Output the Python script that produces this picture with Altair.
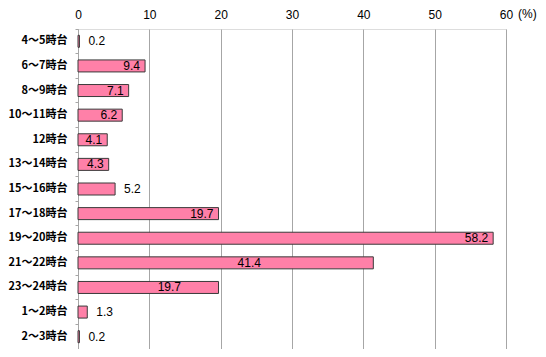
import altair as alt
import pandas as pd

categories = ["4～5時台", "6～7時台", "8～9時台", "10～11時台", "12時台", "13～14時台",
              "15～16時台", "17～18時台", "19～20時台", "21～22時台", "23～24時台",
              "1～2時台", "2～3時台"]
values = [0.2, 9.4, 7.1, 6.2, 4.1, 4.3, 5.2, 19.7, 58.2, 41.4, 19.7, 1.3, 0.2]
x_ticks = [0, 10, 20, 30, 40, 50, 60]

df = pd.DataFrame({"cat": categories, "val": values})
df["label"] = df["val"].map(lambda v: f"{v:.1f}")
df["idx"] = range(len(df))

# label placement style (Excel-like)
inside = [1, 2, 3, 4, 5, 7, 8]
middle = {9: 0.58, 10: 0.65}
df["lx_in"] = df.apply(lambda r: r["val"] if r["idx"] in inside else None, axis=1)
df["lx_mid"] = df.apply(lambda r: r["val"] * middle[r["idx"]] if r["idx"] in middle else None, axis=1)
df["lx_out"] = df.apply(lambda r: r["val"] if (r["idx"] not in inside and r["idx"] not in middle) else None, axis=1)

W, H = 428, 320
xscale = alt.Scale(domain=[0, 60], nice=False, zero=True)
yscale = alt.Scale(domain=categories, paddingInner=0.0, paddingOuter=0.0)

base = alt.Chart(df)

bars = base.mark_bar(fill="#FF80A8", stroke="#3a3a3a", strokeWidth=1, size=12).encode(
    x=alt.X("val:Q", scale=xscale,
            axis=alt.Axis(orient="top", values=x_ticks, title=None, grid=True,
                          gridColor="#a6a6a6", ticks=False, domain=False,
                          labelFont="Liberation Sans", labelFontSize=12, labelColor="#000",
                          labelPadding=8, minExtent=18, maxExtent=18, labelFlush=False)),
    y=alt.Y("cat:N", scale=yscale, sort=categories,
            axis=alt.Axis(title=None, labelFont="Noto Sans CJK JP", labelFontWeight="bold",
                          labelFontSize=11, labelColor="#000", tickColor="#a6a6a6",
                          tickSize=3, bandPosition=0, domainColor="#a6a6a6",
                          labelPadding=8, minExtent=70, maxExtent=70)),
)

txt_in = base.mark_text(align="right", dx=-5, font="Liberation Sans", fontSize=12, color="#000").encode(
    x=alt.X("lx_in:Q", scale=xscale), y=alt.Y("cat:N", scale=yscale, sort=categories), text="label:N")
txt_mid = base.mark_text(align="center", font="Liberation Sans", fontSize=12, color="#000").encode(
    x=alt.X("lx_mid:Q", scale=xscale), y=alt.Y("cat:N", scale=yscale, sort=categories), text="label:N")
txt_out = base.mark_text(align="left", dx=9, font="Liberation Sans", fontSize=12, color="#000").encode(
    x=alt.X("lx_out:Q", scale=xscale), y=alt.Y("cat:N", scale=yscale, sort=categories), text="label:N")

unit = alt.Chart(pd.DataFrame({"x": [60], "t": ["(%)"]})).mark_text(
    align="left", baseline="bottom", dx=12, dy=-8, font="Liberation Sans", fontSize=12, color="#000"
).encode(x=alt.X("x:Q", scale=xscale), y=alt.value(0), text="t:N")

chart = alt.layer(bars, txt_in, txt_mid, txt_out, unit).properties(
    width=W, height=H, padding={"left": 0, "top": 0, "right": 0, "bottom": 0}
).configure_view(stroke=None).configure(background="white")

chart.save("out.html", embed_options={"renderer": "svg", "actions": False})
